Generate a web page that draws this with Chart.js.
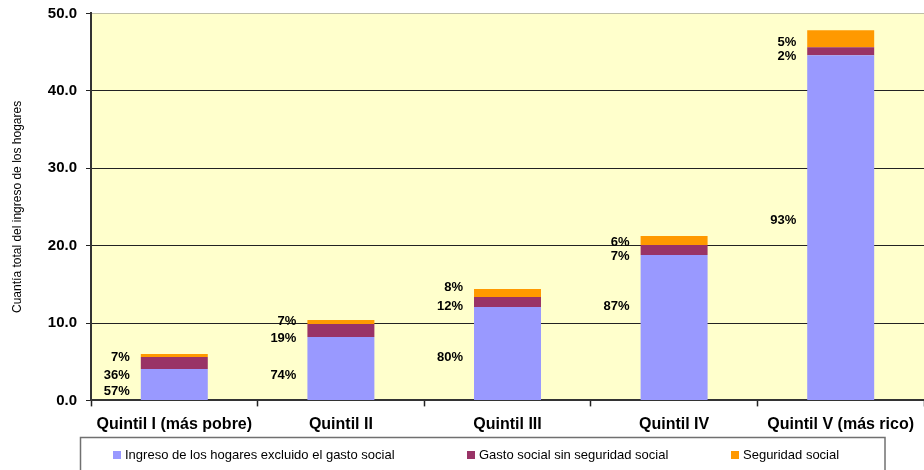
<!DOCTYPE html>
<html>
<head>
<meta charset="utf-8">
<script src="https://cdn.jsdelivr.net/npm/chart.js@4.4.1/dist/chart.umd.min.js"></script>
<style>
html,body{margin:0;padding:0;background:#fff;}
#wrap{width:924px;height:470px;position:relative;}
</style>
</head>
<body>
<div id="wrap"><canvas id="c" width="924" height="470"></canvas></div>
<script>
// ---- data ----
const categories = ['Quintil I (más pobre)', 'Quintil II', 'Quintil III', 'Quintil IV', 'Quintil V (más rico)'];
const seriesNames = ['Ingreso de los hogares excluido el gasto social', 'Gasto social sin seguridad social', 'Seguridad social'];
const ingresoValues = [4.05, 8.2, 12.07, 18.8, 44.6];
const gastoValues = [1.55, 1.68, 1.29, 1.29, 1.03];
const seguridadValues = [0.39, 0.52, 1.03, 1.16, 2.2];
const ingresoPct = ['57%', '74%', '80%', '87%', '93%'];
const gastoPct = ['36%', '19%', '12%', '7%', '2%'];
const seguridadPct = ['7%', '7%', '8%', '6%', '5%'];
// value-axis anchors for the percentage labels (as placed in the original)
const ingresoPctAt = [1.12, 3.28, 5.57, 12.2, 23.2];
const gastoPctAt = [3.28, 8.06, 12.1, 18.57, 44.4];
const seguridadPctAt = [5.57, 10.17, 14.56, 20.4, 46.2];
const yTicks = [0, 10, 20, 30, 40, 50];

const FONT = '"Liberation Sans", Arial, sans-serif';
const colors = ['#9999FF', '#993366', '#FF9900'];

const labelPlugin = {
  id: 'pctLabels',
  afterDatasetsDraw(chart) {
    const ctx = chart.ctx;
    const y = chart.scales.y;
    const sets = [[ingresoPct, ingresoPctAt], [gastoPct, gastoPctAt], [seguridadPct, seguridadPctAt]];
    ctx.save();
    ctx.font = 'bold 13px ' + FONT;
    ctx.fillStyle = '#000';
    ctx.textAlign = 'right';
    ctx.textBaseline = 'middle';
    const meta = chart.getDatasetMeta(0);
    sets.forEach(([txt, at]) => {
      txt.forEach((t, i) => {
        const bar = meta.data[i];
        const left = bar.x - bar.width / 2;
        ctx.fillText(t, left - 11, y.getPixelForValue(at[i]));
      });
    });
    ctx.restore();
  }
};

const legendPlugin = {
  id: 'boxLegend',
  afterDraw(chart) {
    const ctx = chart.ctx;
    ctx.save();
    ctx.strokeStyle = '#707070';
    ctx.lineWidth = 1.5;
    ctx.strokeRect(80.5, 437.5, 804.5, 40);
    const xs = [113, 467, 731];
    ctx.font = '13px ' + FONT;
    ctx.textBaseline = 'middle';
    ctx.textAlign = 'left';
    chart.data.datasets.forEach((ds, i) => {
      ctx.fillStyle = ds.backgroundColor;
      ctx.fillRect(xs[i], 451, 8, 8);
      ctx.fillStyle = '#000';
      ctx.fillText(ds.label, xs[i] + 12, 455.5);
    });
    ctx.restore();
  }
};

const bgPlugin = {
  id: 'plotBg',
  beforeDraw(chart) {
    const a = chart.chartArea;
    const ctx = chart.ctx;
    ctx.save();
    ctx.fillStyle = '#FFFFCC';
    ctx.fillRect(a.left, a.top, a.right - a.left, a.bottom - a.top);
    ctx.restore();
  }
};

new Chart(document.getElementById('c'), {
  type: 'bar',
  data: {
    labels: categories,
    datasets: [
      { label: seriesNames[0], data: ingresoValues, backgroundColor: colors[0] },
      { label: seriesNames[1], data: gastoValues, backgroundColor: colors[1] },
      { label: seriesNames[2], data: seguridadValues, backgroundColor: colors[2] }
    ]
  },
  options: {
    responsive: false,
    animation: false,
    devicePixelRatio: 1,
    layout: { padding: { top: 13.4, right: 0, left: 0, bottom: 0 } },
    datasets: { bar: { barPercentage: 0.402, categoryPercentage: 1, borderWidth: 0 } },
    plugins: { legend: { display: false }, tooltip: { enabled: false } },
    scales: {
      x: {
        stacked: true,
        offset: true,
        grid: { offset: true, drawOnChartArea: false, drawTicks: true, tickLength: 6, color: '#222', tickWidth: 1.5 },
        border: { display: true, color: '#333', width: 2 },
        ticks: { color: '#000', font: { family: FONT, size: 16, weight: 'bold' }, padding: 9, maxRotation: 0, autoSkip: false },
        afterFit(s) { s.height = 69.6; s.paddingLeft = 0; s.paddingRight = 0; }
      },
      y: {
        stacked: true,
        min: 0, max: 50,
        afterBuildTicks(s) { s.ticks = yTicks.map(v => ({ value: v })); },
        grid: {
          color: ctx => ctx.tick && ctx.tick.value === 50 ? 'rgba(0,0,0,0.25)' : (ctx.tick && ctx.tick.value === 0 ? 'rgba(0,0,0,0)' : '#222'),
          tickColor: '#222', tickLength: 5, lineWidth: 1
        },
        border: { display: true, color: '#333', width: 2 },
        ticks: { color: '#000', font: { family: FONT, size: 15, weight: 'bold' }, padding: 9, callback: v => Number(v).toFixed(1) },
        title: { display: true, text: 'Cuantía total del ingreso de los hogares', color: '#000', font: { family: FONT, size: 12 }, padding: { top: 10, bottom: 0 } },
        afterFit(s) { s.width = 91; s.paddingTop = 0; s.paddingBottom = 0; }
      }
    }
  },
  plugins: [bgPlugin, labelPlugin, legendPlugin]
});
</script>
</body>
</html>
